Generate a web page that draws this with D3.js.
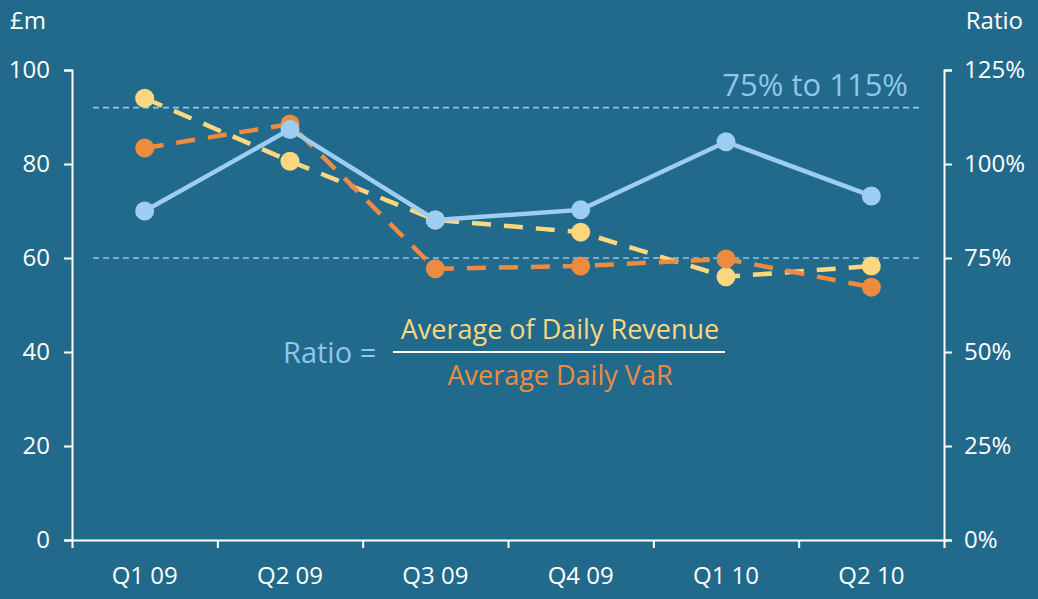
<!DOCTYPE html>
<html>
<head>
<meta charset="utf-8">
<script src="https://cdn.jsdelivr.net/npm/d3@7"></script>
<style>
  html, body { margin: 0; padding: 0; background: #216a8b; }
  svg { display: block; font-family: "Open Sans", "Noto Sans", sans-serif; }
</style>
</head>
<body>
<svg id="chart" width="1038" height="599"></svg>
<script>
// quarters along the bottom
var quarters = ["Q1 09", "Q2 09", "Q3 09", "Q4 09", "Q1 10", "Q2 10"]
// £m, left axis
var dailyRevenue = [94.0, 80.6, 68.1, 65.5, 56.0, 58.3]
var dailyVaR = [83.4, 88.5, 57.7, 58.3, 59.8, 53.8]
// ratio in %, right axis
var ratio = [87.5, 109.2, 85.1, 87.8, 105.9, 91.5]
var leftTicks = [0, 20, 40, 60, 80, 100]
var rightTicks = [0, 25, 50, 75, 100, 125]
var band = [75, 115] // target ratio band

var svg = d3.select("#chart")
var x0 = 72, x1 = 944, yTop = 70, yBot = 540

var x = d3.scaleBand().domain(quarters).range([x0, x1])
var xEdge = d3.scaleLinear().domain([0, quarters.length]).range([x0, x1])
var y = d3.scaleLinear().domain([0, 100]).range([yBot, yTop])
var yR = d3.scaleLinear().domain([0, 125]).range([yBot, yTop])

var white = "#ffffff"

// axes
var gl = svg.append("g").attr("transform", "translate(" + x0 + ",0)")
  .call(d3.axisLeft(y).tickValues(leftTicks).tickSize(8).tickPadding(14))
var gr = svg.append("g").attr("transform", "translate(" + x1 + ",0)")
  .call(d3.axisRight(yR).tickValues(rightTicks).tickSize(8).tickPadding(12).tickFormat(function(d){ return d + "%" }))
var gb = svg.append("g").attr("transform", "translate(0," + yBot + ")")
  .call(d3.axisBottom(xEdge).tickValues(d3.range(quarters.length + 1)).tickSize(8).tickSizeOuter(0).tickFormat(""))
var gbl = svg.append("g").attr("transform", "translate(0," + yBot + ")")
  .call(d3.axisBottom(x).tickSize(0).tickPadding(27))
gbl.select(".domain").remove()

;[gl, gr, gb, gbl].forEach(function(g) {
  g.attr("font-family", null).attr("font-size", 24)
  g.selectAll(".domain, line").attr("stroke", white).attr("stroke-width", 2)
  g.selectAll("text").attr("fill", white)
})

// unit labels
svg.append("text").attr("x", 10).attr("y", 29).attr("fill", white).attr("font-size", 24).text("£m")
svg.append("text").attr("x", 1023).attr("y", 29).attr("text-anchor", "end").attr("fill", white).attr("font-size", 24).text("Ratio")

// target band lines
svg.selectAll(".bandline").data(band).enter().append("line")
  .attr("x1", 93).attr("x2", 922)
  .attr("y1", function(d){ return yR(d) }).attr("y2", function(d){ return yR(d) })
  .attr("stroke", "#8fc6ea").attr("stroke-width", 1.6).attr("stroke-dasharray", "6,4")
svg.append("text").attr("x", 908).attr("y", yR(band[1]) - 12).attr("text-anchor", "end")
  .attr("fill", "#8fc6ea").attr("font-size", 31).text(band[0] + "% to " + band[1] + "%")

// formula
svg.append("text").attr("x", 283).attr("y", 363).attr("fill", "#8fc6ea").attr("font-size", 29).text("Ratio =")
svg.append("line").attr("x1", 393).attr("x2", 725).attr("y1", 352).attr("y2", 352).attr("stroke", white).attr("stroke-width", 2)
svg.append("text").attr("x", 560).attr("y", 339).attr("text-anchor", "middle").attr("fill", "#fcd77f").attr("font-size", 27).text("Average of Daily Revenue")
svg.append("text").attr("x", 560).attr("y", 385).attr("text-anchor", "middle").attr("fill", "#ed8b3f").attr("font-size", 27).text("Average Daily VaR")

// series
var cx = function(d, i){ return x(quarters[i]) + x.bandwidth() / 2 }
var series = [
  { vals: dailyRevenue, sc: y, color: "#fcd77f", dash: "19,13" },
  { vals: dailyVaR, sc: y, color: "#ed8b3f", dash: "19,13" },
  { vals: ratio, sc: yR, color: "#9dcdf0", dash: null }
]
series.forEach(function(s) {
  var line = d3.line().x(cx).y(function(d){ return s.sc(d) })
  svg.append("path").datum(s.vals).attr("d", line)
    .attr("fill", "none").attr("stroke", s.color).attr("stroke-width", 4.5)
    .attr("stroke-dasharray", s.dash)
  svg.selectAll(null).data(s.vals).enter().append("circle")
    .attr("cx", cx).attr("cy", function(d){ return s.sc(d) }).attr("r", 9.5)
    .attr("fill", s.color)
})
</script>
</body>
</html>
